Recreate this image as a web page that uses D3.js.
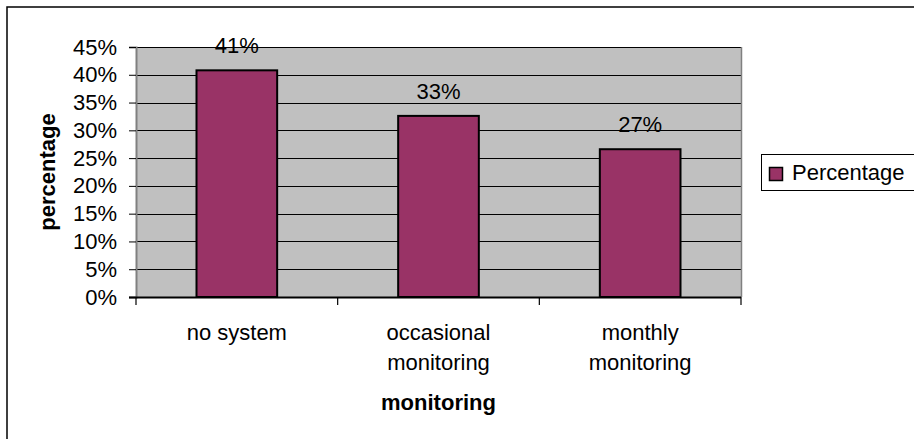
<!DOCTYPE html>
<html>
<head>
<meta charset="utf-8">
<script src="https://cdn.jsdelivr.net/npm/d3@7"></script>
<style>
  html, body { margin: 0; padding: 0; background: #fff; }
  svg { display: block; font-family: "Liberation Sans", Arial, sans-serif; }
</style>
</head>
<body>
<svg id="chart" width="914" height="439"></svg>
<script>
// Share of respondents by monitoring approach
const categories = [["no system"], ["occasional", "monitoring"], ["monthly", "monitoring"]];
const categoryKeys = ["no system", "occasional monitoring", "monthly monitoring"];
const percentages = [0.408, 0.326, 0.266];
const yTicks = [0, 0.05, 0.10, 0.15, 0.20, 0.25, 0.30, 0.35, 0.40, 0.45];
const seriesName = "Percentage";
const xTitle = "monitoring";
const yTitle = "percentage";

const svg = d3.select("#chart");
const plot = { left: 136, right: 741, top: 47, bottom: 297 };
const fontSize = 22;
const barFill = "#993366";
const plotFill = "#C0C0C0";

// chart frame
svg.append("rect")
  .attr("x", 7).attr("y", 7).attr("width", 920).attr("height", 450)
  .attr("fill", "none").attr("stroke", "#000").attr("stroke-width", 1.5);

const x = d3.scaleBand().domain(categoryKeys).range([plot.left, plot.right]).paddingInner(0).paddingOuter(0);
const y = d3.scaleLinear().domain([0, 0.45]).range([plot.bottom, plot.top]);

// plot background
svg.append("rect")
  .attr("x", plot.left).attr("y", plot.top)
  .attr("width", plot.right - plot.left).attr("height", plot.bottom - plot.top)
  .attr("fill", plotFill);

// horizontal gridlines
svg.append("g").selectAll("line").data(yTicks.filter(t => t > 0)).join("line")
  .attr("x1", plot.left).attr("x2", plot.right)
  .attr("y1", d => Math.round(y(d)) + 0.5).attr("y2", d => Math.round(y(d)) + 0.5)
  .attr("stroke", "#000").attr("stroke-width", 1);

// right border of plot area
svg.append("line")
  .attr("x1", plot.right + 0.5).attr("x2", plot.right + 0.5)
  .attr("y1", plot.top).attr("y2", plot.bottom)
  .attr("stroke", "#808080").attr("stroke-width", 1.5);

// bars
const barW = x.bandwidth() / 2.5;
svg.append("g").selectAll("rect").data(percentages).join("rect")
  .attr("x", (d, i) => x(categoryKeys[i]) + (x.bandwidth() - barW) / 2)
  .attr("y", d => y(d))
  .attr("width", barW)
  .attr("height", d => y(0) - y(d))
  .attr("fill", barFill).attr("stroke", "#000").attr("stroke-width", 2);

// value labels
const fmt = d3.format(".0%");
svg.append("g").selectAll("text").data(percentages).join("text")
  .attr("x", (d, i) => x(categoryKeys[i]) + x.bandwidth() / 2)
  .attr("y", d => y(d) - 17)
  .attr("text-anchor", "middle")
  .attr("font-size", fontSize).attr("fill", "#000")
  .text(d => fmt(d));

// y axis
const yAxis = d3.axisLeft(y).tickValues(yTicks).tickFormat(d3.format(".0%")).tickSize(7).tickPadding(12);
const yg = svg.append("g").attr("transform", `translate(${plot.left},0)`).call(yAxis);
yg.select(".domain").attr("stroke", "#808080").attr("stroke-width", 2);
yg.selectAll(".tick line").attr("stroke", "#000");
yg.selectAll(".tick text").attr("font-size", fontSize).attr("font-family", "Liberation Sans, Arial, sans-serif").attr("fill", "#000");

// x axis with ticks at category boundaries
svg.append("line")
  .attr("x1", plot.left - 7).attr("x2", plot.right)
  .attr("y1", plot.bottom + 0.5).attr("y2", plot.bottom + 0.5)
  .attr("stroke", "#000").attr("stroke-width", 2);
const boundaries = categoryKeys.map(k => x(k)).concat([plot.right]);
svg.append("g").selectAll("line").data(boundaries).join("line")
  .attr("x1", d => d).attr("x2", d => d)
  .attr("y1", plot.bottom).attr("y2", plot.bottom + 8)
  .attr("stroke", "#000").attr("stroke-width", 1.2);

// category labels
const catG = svg.append("g");
categories.forEach((lines, i) => {
  const t = catG.append("text")
    .attr("text-anchor", "middle").attr("font-size", fontSize).attr("fill", "#000");
  lines.forEach((ln, j) => {
    t.append("tspan")
      .attr("x", x(categoryKeys[i]) + x.bandwidth() / 2)
      .attr("y", 340 + j * 30)
      .text(ln);
  });
});

// axis titles
svg.append("text")
  .attr("x", (plot.left + plot.right) / 2).attr("y", 410)
  .attr("text-anchor", "middle").attr("font-size", fontSize).attr("font-weight", "bold")
  .text(xTitle);
svg.append("text")
  .attr("transform", `translate(55,${(plot.top + plot.bottom) / 2}) rotate(-90)`)
  .attr("text-anchor", "middle").attr("font-size", fontSize).attr("font-weight", "bold")
  .text(yTitle);

// legend
const lg = svg.append("g");
lg.append("rect")
  .attr("x", 761.5).attr("y", 154.5).attr("width", 170).attr("height", 36)
  .attr("fill", "#fff").attr("stroke", "#000").attr("stroke-width", 1);
lg.append("rect")
  .attr("x", 769.5).attr("y", 167.5).attr("width", 13).attr("height", 13)
  .attr("fill", barFill).attr("stroke", "#000").attr("stroke-width", 1.5);
lg.append("text")
  .attr("x", 792).attr("y", 180)
  .attr("font-size", fontSize).attr("fill", "#000")
  .text(seriesName);
</script>
</body>
</html>
